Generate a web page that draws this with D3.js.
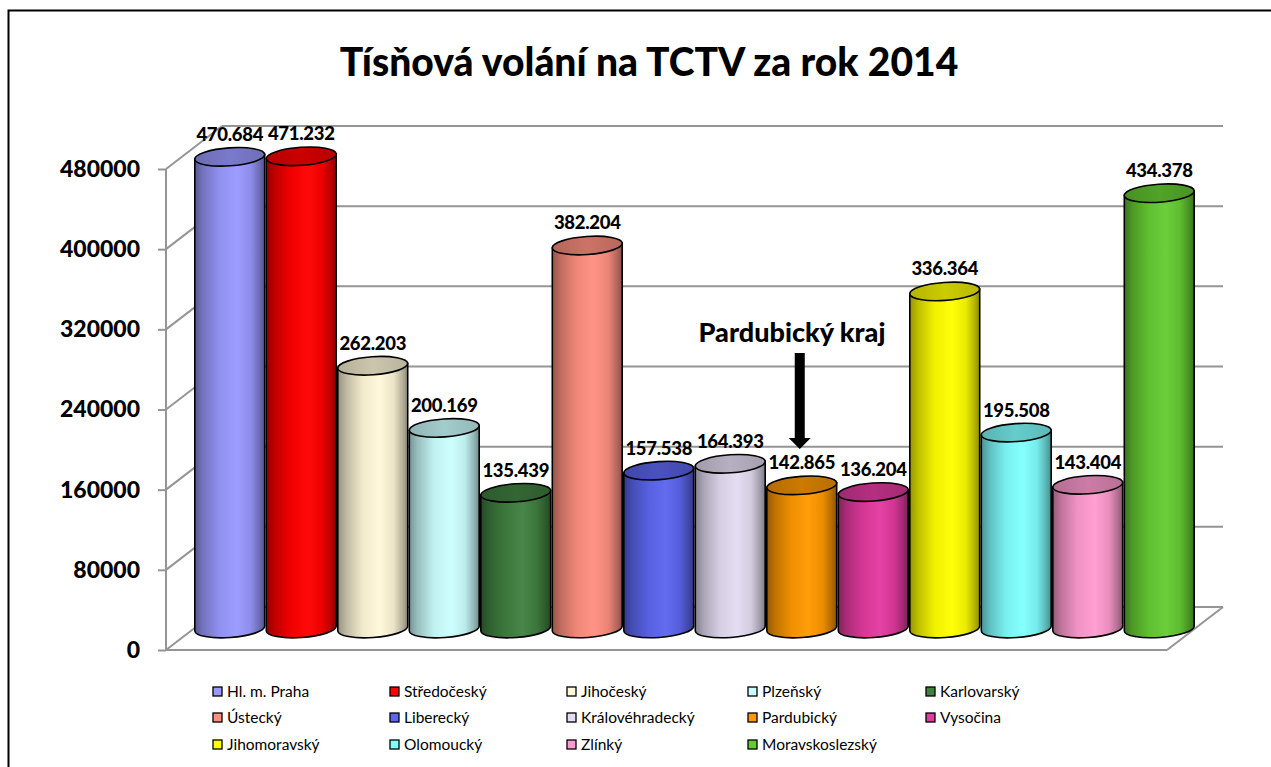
<!DOCTYPE html>
<html><head><meta charset="utf-8">
<script src="https://cdn.jsdelivr.net/npm/d3@7"></script>
<style>html,body{margin:0;padding:0;background:#fff;}svg{display:block;}</style>
</head><body>
<svg id="c" width="1271" height="767"></svg>
<script>
const categories = ["Hl. m. Praha","Středočeský","Jihočeský","Plzeňský","Karlovarský","Ústecký","Liberecký","Královéhradecký","Pardubický","Vysočina","Jihomoravský","Olomoucký","Zlínký","Moravskoslezský"];
const values = [470684,471232,262203,200169,135439,382204,157538,164393,142865,136204,336364,195508,143404,434378];
const colors = ["#9999FF","#FF0000","#FFF8D8","#CCFFFF","#408040","#FF9080","#5C66EE","#E4DCF2","#FF9900","#E33AA0","#FFFF00","#80FFFF","#FF9BD0","#66CC33"];
const yTicks = [0,80000,160000,240000,320000,400000,480000];
const title = "Tísňová volání na TCTV za rok 2014";
const annotation = "Pardubický kraj";

const svg = d3.select("#c");
const FONT = "Lato, 'Open Sans', sans-serif";
const DX = 56, DY = -43;

svg.append("rect").attr("x",8.5).attr("y",10.5).attr("width",1300).attr("height",800)
  .attr("fill","#fff").attr("stroke","#000").attr("stroke-width",2);

svg.append("text").attr("x",649).attr("y",76).attr("text-anchor","middle")
  .attr("font-family",FONT).attr("font-weight","900").attr("font-size",39).text(title);

const x = d3.scaleBand().domain(categories).range([166,1167]).padding(0);
const y = d3.scaleLinear().domain([0,480000]).range([650,169]);

const grid = svg.append("g").attr("stroke","#959595").attr("stroke-width",2).attr("fill","none");
yTicks.forEach(t=>{
  const yy = y(t);
  grid.append("line").attr("x1",166).attr("y1",yy).attr("x2",166+DX).attr("y2",yy+DY);
  grid.append("line").attr("x1",166+DX).attr("y1",yy+DY).attr("x2",1167+DX).attr("y2",yy+DY);
});
grid.append("line").attr("x1",166).attr("y1",y(0)).attr("x2",1167).attr("y2",y(0));
grid.append("line").attr("x1",1167).attr("y1",y(0)).attr("x2",1167+DX).attr("y2",y(0)+DY);

const axis = svg.append("g").attr("transform","translate(166,0)")
  .call(d3.axisLeft(y).tickValues(yTicks).tickSize(8).tickPadding(18).tickFormat(d3.format("d")));
axis.selectAll("path,line").attr("stroke","#959595").attr("stroke-width",2);
axis.select(".domain").attr("d","M-0,169V650");
axis.selectAll("text").attr("font-family",FONT).attr("font-weight","900").attr("font-size",23).attr("fill","#000");

const defs = svg.append("defs");
const mixB = (c,k)=>d3.interpolateRgb(c,"#000")(k);
const mixW = (c,k)=>d3.interpolateRgb(c,"#fff")(k);
const bw = x.bandwidth();
const rx = bw*0.49, ry = 9, th = -4*Math.PI/180;
const ca = Math.cos(th), sa = Math.sin(th);
const fmt = v => d3.format(",")(v).replace(/,/g,".");

categories.forEach((c,i)=>{
  const col = colors[i];
  const g = defs.append("linearGradient").attr("id","g"+i).attr("x1","0").attr("x2","1").attr("y1","0").attr("y2","0");
  [[0,mixB(col,0.42)],[0.12,mixB(col,0.25)],[0.35,mixB(col,0.06)],[0.6,mixW(col,0.04)],[0.8,mixB(col,0.08)],[0.93,mixB(col,0.3)],[1,mixB(col,0.45)]]
    .forEach(s=>g.append("stop").attr("offset",s[0]).attr("stop-color",s[1]));
  const gt = defs.append("linearGradient").attr("id","t"+i).attr("x1","0").attr("x2","1").attr("y1","0").attr("y2","0");
  [[0,mixB(col,0.3)],[0.5,mixB(col,0.2)],[1,mixB(col,0.28)]]
    .forEach(s=>gt.append("stop").attr("offset",s[0]).attr("stop-color",s[1]));
});

const cyl = svg.append("g");
categories.forEach((c,i)=>{
  const v = values[i];
  const cx = x(c)+bw/2+DX/2;
  const yb = y(0)+DY/2, yt = y(v)+DY/2;
  const lx = cx - rx*ca, rxx = cx + rx*ca;
  const p = `M${lx},${yt - rx*sa} L${lx},${yb - rx*sa} A${rx},${ry} -4 0 0 ${rxx},${yb + rx*sa} L${rxx},${yt + rx*sa} Z`;
  cyl.append("path").attr("d",p).attr("fill",`url(#g${i})`).attr("stroke","#000").attr("stroke-width",1.6);
  cyl.append("ellipse").attr("cx",cx).attr("cy",yt).attr("rx",rx).attr("ry",ry)
    .attr("transform",`rotate(-4,${cx},${yt})`)
    .attr("fill",`url(#t${i})`).attr("stroke","#000").attr("stroke-width",1.6);
});

const labels = svg.append("g");
categories.forEach((c,i)=>{
  const v = values[i];
  const cx = x(c)+bw/2+DX/2;
  const yt = y(v)+DY/2;
  labels.append("text").attr("x",cx).attr("y",yt-16).attr("text-anchor","middle")
    .attr("font-family",FONT).attr("font-weight","900").attr("font-size",18.5)
    .attr("letter-spacing",-0.3).text(fmt(v));
});

svg.append("text").attr("x",792).attr("y",342).attr("text-anchor","middle")
  .attr("font-family",FONT).attr("font-weight","900").attr("font-size",27).text(annotation);
const ax = x("Pardubický")+bw/2+DX/2 - 2;
svg.append("path").attr("d",`M${ax-5},353 L${ax+5},353 L${ax+5},438 L${ax+11},438 L${ax},449 L${ax-11},438 L${ax-5},438 Z`).attr("fill","#000");

const lg = svg.append("g");
const colX = [213,390,567,748,926], rowY = [692,718,745];
categories.forEach((c,i)=>{
  const r = Math.floor(i/5), k = i%5;
  const gx = colX[k], gy = rowY[r];
  lg.append("rect").attr("x",gx).attr("y",gy-5).attr("width",9).attr("height",9)
    .attr("fill",colors[i]).attr("stroke","#000").attr("stroke-width",1.3);
  lg.append("text").attr("x",gx+14).attr("y",gy+5).attr("font-family",FONT).attr("font-size",15.5).text(c);
});
</script>
</body></html>
